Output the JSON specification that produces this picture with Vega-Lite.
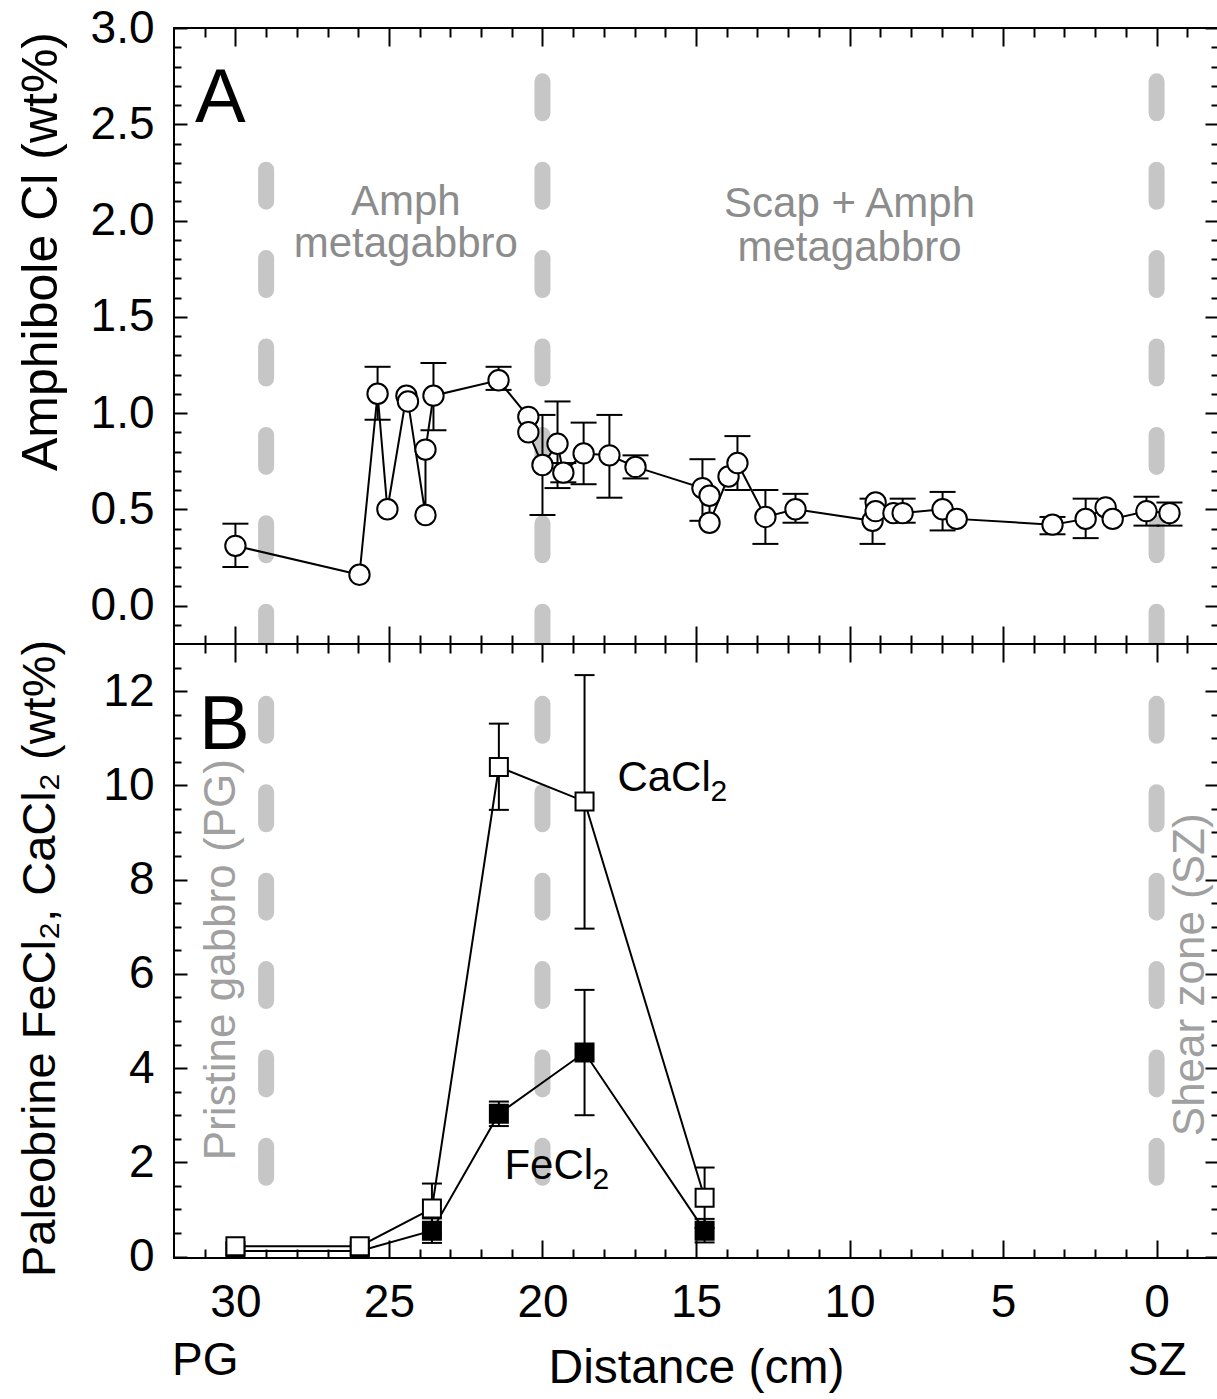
{
  "$schema": "https://vega.github.io/schema/vega-lite/v6.json",
  "background": "white",
  "padding": {"left": 15, "top": 4, "right": 0, "bottom": 0},
  "spacing": 0,
  "bounds": "flush",
  "config": {
    "font": "Liberation Sans",
    "view": {"stroke": "black", "strokeWidth": 2},
    "axis": {"grid": false, "domain": false, "labelFont": "Liberation Sans", "titleFont": "Liberation Sans", "labelFontSize": 46, "titleFontSize": 46, "labelColor": "black", "titleColor": "black", "titleFontWeight": "normal", "tickColor": "black", "tickWidth": 2, "labelFlush": false, "labelOverlap": false}
  },
  "datasets": {
    "amph": [
      {"seq": 1, "d": 30.0, "cl": 0.31, "lo": 0.20, "hi": 0.425},
      {"seq": 2, "d": 25.96, "cl": 0.16, "lo": null, "hi": null},
      {"seq": 3, "d": 25.37, "cl": 1.10, "lo": 0.965, "hi": 1.24},
      {"seq": 4, "d": 25.05, "cl": 0.50, "lo": null, "hi": null},
      {"seq": 5, "d": 24.43, "cl": 1.09, "lo": null, "hi": null},
      {"seq": 6, "d": 24.38, "cl": 1.06, "lo": null, "hi": null},
      {"seq": 7, "d": 23.81, "cl": 0.47, "lo": null, "hi": null},
      {"seq": 8, "d": 23.81, "cl": 0.81, "lo": null, "hi": null},
      {"seq": 9, "d": 23.55, "cl": 1.09, "lo": 0.91, "hi": 1.26},
      {"seq": 10, "d": 21.43, "cl": 1.17, "lo": 1.12, "hi": 1.24},
      {"seq": 11, "d": 20.46, "cl": 0.98, "lo": null, "hi": null},
      {"seq": 12, "d": 20.46, "cl": 0.90, "lo": null, "hi": null},
      {"seq": 13, "d": 20.0, "cl": 0.73, "lo": 0.47, "hi": 0.99},
      {"seq": 14, "d": 19.51, "cl": 0.84, "lo": 0.61, "hi": 1.06},
      {"seq": 15, "d": 19.32, "cl": 0.69, "lo": 0.64, "hi": 0.74},
      {"seq": 16, "d": 18.66, "cl": 0.79, "lo": 0.63, "hi": 0.95},
      {"seq": 17, "d": 17.82, "cl": 0.78, "lo": 0.56, "hi": 0.99},
      {"seq": 18, "d": 16.97, "cl": 0.72, "lo": 0.66, "hi": 0.78},
      {"seq": 19, "d": 14.79, "cl": 0.61, "lo": 0.44, "hi": 0.76},
      {"seq": 20, "d": 14.56, "cl": 0.57, "lo": null, "hi": null},
      {"seq": 21, "d": 14.56, "cl": 0.43, "lo": null, "hi": null},
      {"seq": 22, "d": 13.94, "cl": 0.67, "lo": null, "hi": null},
      {"seq": 23, "d": 13.65, "cl": 0.74, "lo": 0.60, "hi": 0.88},
      {"seq": 24, "d": 12.74, "cl": 0.46, "lo": 0.32, "hi": 0.60},
      {"seq": 25, "d": 11.76, "cl": 0.50, "lo": 0.43, "hi": 0.58},
      {"seq": 26, "d": 9.25, "cl": 0.44, "lo": 0.32, "hi": 0.555},
      {"seq": 27, "d": 9.15, "cl": 0.535, "lo": null, "hi": null},
      {"seq": 28, "d": 9.15, "cl": 0.49, "lo": null, "hi": null},
      {"seq": 29, "d": 8.57, "cl": 0.48, "lo": null, "hi": null},
      {"seq": 30, "d": 8.27, "cl": 0.48, "lo": 0.43, "hi": 0.555},
      {"seq": 31, "d": 6.97, "cl": 0.50, "lo": 0.39, "hi": 0.59},
      {"seq": 32, "d": 6.51, "cl": 0.45, "lo": null, "hi": null},
      {"seq": 33, "d": 3.39, "cl": 0.42, "lo": 0.37, "hi": 0.46},
      {"seq": 34, "d": 2.31, "cl": 0.45, "lo": 0.35, "hi": 0.555},
      {"seq": 35, "d": 1.66, "cl": 0.51, "lo": null, "hi": null},
      {"seq": 36, "d": 1.43, "cl": 0.45, "lo": null, "hi": null},
      {"seq": 37, "d": 0.33, "cl": 0.49, "lo": 0.415, "hi": 0.565},
      {"seq": 38, "d": -0.42, "cl": 0.48, "lo": 0.415, "hi": 0.535}
    ],
    "brine": [
      {"seq": 1, "sp": "FeCl2", "d": 30.0, "v": 0.12, "lo": null, "hi": null},
      {"seq": 2, "sp": "FeCl2", "d": 25.95, "v": 0.12, "lo": null, "hi": null},
      {"seq": 3, "sp": "FeCl2", "d": 23.6, "v": 0.55, "lo": 0.29, "hi": 0.81},
      {"seq": 4, "sp": "FeCl2", "d": 21.42, "v": 3.03, "lo": 2.77, "hi": 3.29},
      {"seq": 5, "sp": "FeCl2", "d": 18.63, "v": 4.33, "lo": 3.0, "hi": 5.66},
      {"seq": 6, "sp": "FeCl2", "d": 14.72, "v": 0.55, "lo": 0.30, "hi": 0.80},
      {"seq": 1, "sp": "CaCl2", "d": 30.0, "v": 0.22, "lo": null, "hi": null},
      {"seq": 2, "sp": "CaCl2", "d": 25.95, "v": 0.22, "lo": null, "hi": null},
      {"seq": 3, "sp": "CaCl2", "d": 23.6, "v": 1.02, "lo": 0.49, "hi": 1.55},
      {"seq": 4, "sp": "CaCl2", "d": 21.42, "v": 10.39, "lo": 9.48, "hi": 11.31},
      {"seq": 5, "sp": "CaCl2", "d": 18.63, "v": 9.66, "lo": 6.96, "hi": 12.34},
      {"seq": 6, "sp": "CaCl2", "d": 14.72, "v": 1.25, "lo": 0.61, "hi": 1.89}
    ],
    "dashTop": [
      {"d": 29, "y1": 2.264, "y2": -0.25},
      {"d": 20, "y1": 2.723, "y2": -0.25},
      {"d": 0, "y1": 2.723, "y2": -0.25}
    ],
    "dashBot": [
      {"d": 29, "y1": 11.73, "y2": 1.0},
      {"d": 20, "y1": 11.73, "y2": 1.0},
      {"d": 0, "y1": 11.73, "y2": 1.0}
    ],
    "regionText": [
      {"d": 24.45, "y": 2.03, "label": "Amph"},
      {"d": 24.45, "y": 1.81, "label": "metagabbro"},
      {"d": 10.0, "y": 2.02, "label": "Scap + Amph"},
      {"d": 10.0, "y": 1.79, "label": "metagabbro"}
    ],
    "letterA": [{"d": 30.49, "y": 2.51, "label": "A"}],
    "letterB": [{"d": 30.36, "y": 10.77, "label": "B"}],
    "rotText": [
      {"d": 30.0, "y": 6.3, "label": "Pristine gabbro (PG)"},
      {"d": -1.55, "y": 5.98, "label": "Shear zone (SZ)"}
    ],
    "speciesText": [
      {"d": 17.56, "y": 9.88, "label": "CaCl"},
      {"d": 21.24, "y": 1.65, "label": "FeCl"}
    ],
    "subText": [
      {"d": 14.53, "y": 9.67, "label": "2"},
      {"d": 18.37, "y": 1.43, "label": "2"}
    ]
  },
  "vconcat": [
    {
      "width": 1044,
      "height": 616,
      "resolve": {"axis": {"x": "independent", "y": "independent"}},
      "layer": [
        {
          "data": {"name": "dashTop"},
          "mark": {"type": "rule", "color": "#c6c6c6", "strokeWidth": 16, "strokeCap": "round", "strokeDash": [32, 56.4], "clip": true},
          "encoding": {
            "x": {"field": "d", "type": "quantitative", "scale": {"domain": [32, -2], "nice": false, "zero": false}, "axis": {"orient": "bottom", "values": [30, 25, 20, 15, 10, 5, 0], "tickSize": -18, "labels": false, "title": null}},
            "y": {"field": "y1", "type": "quantitative", "scale": {"domain": [-0.2, 3.0], "nice": false, "zero": false}, "axis": {"orient": "left", "values": [0, 0.5, 1, 1.5, 2, 2.5, 3], "tickSize": -13, "labels": false, "title": null}},
            "y2": {"field": "y2"}
          }
        },
        {
          "data": {"name": "regionText"},
          "mark": {"type": "text", "fontSize": 42, "color": "#8c8c8c", "align": "center", "baseline": "alphabetic"},
          "encoding": {
            "x": {"field": "d", "type": "quantitative", "scale": {"domain": [32, -2], "nice": false, "zero": false}, "axis": {"orient": "bottom", "values": [31, 29, 28, 27, 26, 24, 23, 22, 21, 19, 18, 17, 16, 14, 13, 12, 11, 9, 8, 7, 6, 4, 3, 2, 1, -1], "tickSize": -9, "labels": false, "title": null}},
            "y": {"field": "y", "type": "quantitative", "scale": {"domain": [-0.2, 3.0], "nice": false, "zero": false}, "axis": {"orient": "left", "values": [-0.1, 0.1, 0.2, 0.3, 0.4, 0.6, 0.7, 0.8, 0.9, 1.1, 1.2, 1.3, 1.4, 1.6, 1.7, 1.8, 1.9, 2.1, 2.2, 2.3, 2.4, 2.6, 2.7, 2.8, 2.9], "tickSize": -7, "labels": false, "title": null}},
            "text": {"field": "label"}
          }
        },
        {
          "data": {"name": "amph"},
          "transform": [{"filter": "isValid(datum.lo)"}],
          "mark": {"type": "rule", "color": "black", "strokeWidth": 2},
          "encoding": {
            "x": {"field": "d", "type": "quantitative", "scale": {"domain": [32, -2], "nice": false, "zero": false}, "axis": {"orient": "top", "values": [30, 25, 20, 15, 10, 5, 0], "tickSize": -18, "labels": false, "title": null}},
            "y": {"field": "lo", "type": "quantitative", "scale": {"domain": [-0.2, 3.0], "nice": false, "zero": false}, "axis": {"orient": "right", "values": [0, 0.5, 1, 1.5, 2, 2.5, 3], "tickSize": -13, "labels": false, "title": null}},
            "y2": {"field": "hi"}
          }
        },
        {
          "data": {"name": "amph"},
          "transform": [{"filter": "isValid(datum.hi)"}],
          "mark": {"type": "tick", "orient": "horizontal", "color": "black", "size": 26, "thickness": 2, "opacity": 1},
          "encoding": {
            "x": {"field": "d", "type": "quantitative", "scale": {"domain": [32, -2], "nice": false, "zero": false}, "axis": {"orient": "top", "values": [31, 29, 28, 27, 26, 24, 23, 22, 21, 19, 18, 17, 16, 14, 13, 12, 11, 9, 8, 7, 6, 4, 3, 2, 1, -1], "tickSize": -9, "labels": false, "title": null}},
            "y": {"field": "hi", "type": "quantitative", "scale": {"domain": [-0.2, 3.0], "nice": false, "zero": false}, "axis": {"orient": "right", "values": [-0.1, 0.1, 0.2, 0.3, 0.4, 0.6, 0.7, 0.8, 0.9, 1.1, 1.2, 1.3, 1.4, 1.6, 1.7, 1.8, 1.9, 2.1, 2.2, 2.3, 2.4, 2.6, 2.7, 2.8, 2.9], "tickSize": -7, "labels": false, "title": null}}
          }
        },
        {
          "data": {"name": "amph"},
          "transform": [{"filter": "isValid(datum.lo)"}],
          "mark": {"type": "tick", "orient": "horizontal", "color": "black", "size": 26, "thickness": 2, "opacity": 1},
          "encoding": {
            "x": {"field": "d", "type": "quantitative", "scale": {"domain": [32, -2], "nice": false, "zero": false}, "axis": null},
            "y": {"field": "lo", "type": "quantitative", "scale": {"domain": [-0.2, 3.0], "nice": false, "zero": false}, "axis": {"orient": "left", "values": [0, 0.5, 1, 1.5, 2, 2.5, 3], "ticks": false, "labelPadding": 20, "format": ".1f", "title": "Amphibole Cl (wt%)", "titleFontSize": 50, "titlePadding": 24, "titleY": 223}}
          }
        },
        {
          "data": {"name": "amph"},
          "mark": {"type": "line", "color": "black", "strokeWidth": 2},
          "encoding": {
            "x": {"field": "d", "type": "quantitative", "scale": {"domain": [32, -2], "nice": false, "zero": false}, "axis": null},
            "y": {"field": "cl", "type": "quantitative", "scale": {"domain": [-0.2, 3.0], "nice": false, "zero": false}, "axis": null},
            "order": {"field": "seq", "type": "quantitative"}
          }
        },
        {
          "data": {"name": "amph"},
          "mark": {"type": "circle", "fill": "white", "stroke": "black", "strokeWidth": 2, "size": 415, "opacity": 1},
          "encoding": {
            "x": {"field": "d", "type": "quantitative", "scale": {"domain": [32, -2], "nice": false, "zero": false}, "axis": null},
            "y": {"field": "cl", "type": "quantitative", "scale": {"domain": [-0.2, 3.0], "nice": false, "zero": false}, "axis": null}
          }
        },
        {
          "data": {"name": "letterA"},
          "mark": {"type": "text", "fontSize": 76, "color": "black", "align": "center", "baseline": "alphabetic"},
          "encoding": {
            "x": {"field": "d", "type": "quantitative", "scale": {"domain": [32, -2], "nice": false, "zero": false}, "axis": null},
            "y": {"field": "y", "type": "quantitative", "scale": {"domain": [-0.2, 3.0], "nice": false, "zero": false}, "axis": null},
            "text": {"field": "label"}
          }
        }
      ]
    },
    {
      "width": 1044,
      "height": 614,
      "resolve": {"axis": {"x": "independent", "y": "independent"}},
      "layer": [
        {
          "data": {"name": "dashBot"},
          "mark": {"type": "rule", "color": "#c6c6c6", "strokeWidth": 16, "strokeCap": "round", "strokeDash": [32, 56.4], "clip": true},
          "encoding": {
            "x": {"field": "d", "type": "quantitative", "scale": {"domain": [32, -2], "nice": false, "zero": false}, "axis": {"orient": "bottom", "values": [30, 25, 20, 15, 10, 5, 0], "tickSize": -18, "labels": false, "title": null}},
            "y": {"field": "y1", "type": "quantitative", "scale": {"domain": [-0.03, 13], "nice": false, "zero": false}, "axis": {"orient": "left", "values": [0, 2, 4, 6, 8, 10, 12], "tickSize": -13, "labels": false, "title": null}},
            "y2": {"field": "y2"}
          }
        },
        {
          "data": {"name": "rotText"},
          "mark": {"type": "text", "fontSize": 44, "color": "#a0a0a0", "align": "center", "baseline": "alphabetic", "angle": 270},
          "encoding": {
            "x": {"field": "d", "type": "quantitative", "scale": {"domain": [32, -2], "nice": false, "zero": false}, "axis": {"orient": "bottom", "values": [31, 29, 28, 27, 26, 24, 23, 22, 21, 19, 18, 17, 16, 14, 13, 12, 11, 9, 8, 7, 6, 4, 3, 2, 1, -1], "tickSize": -9, "labels": false, "title": null}},
            "y": {"field": "y", "type": "quantitative", "scale": {"domain": [-0.03, 13], "nice": false, "zero": false}, "axis": {"orient": "left", "values": [0.5, 1, 1.5, 2.5, 3, 3.5, 4.5, 5, 5.5, 6.5, 7, 7.5, 8.5, 9, 9.5, 10.5, 11, 11.5, 12.5], "tickSize": -7, "labels": false, "title": null}},
            "text": {"field": "label"}
          }
        },
        {
          "data": {"name": "speciesText"},
          "mark": {"type": "text", "fontSize": 42, "color": "black", "align": "left", "baseline": "alphabetic"},
          "encoding": {
            "x": {"field": "d", "type": "quantitative", "scale": {"domain": [32, -2], "nice": false, "zero": false}, "axis": {"orient": "top", "values": [30, 25, 20, 15, 10, 5, 0], "tickSize": -18, "labels": false, "title": null}},
            "y": {"field": "y", "type": "quantitative", "scale": {"domain": [-0.03, 13], "nice": false, "zero": false}, "axis": {"orient": "right", "values": [0, 2, 4, 6, 8, 10, 12], "tickSize": -13, "labels": false, "title": null}},
            "text": {"field": "label"}
          }
        },
        {
          "data": {"name": "subText"},
          "mark": {"type": "text", "fontSize": 30, "color": "black", "align": "left", "baseline": "alphabetic"},
          "encoding": {
            "x": {"field": "d", "type": "quantitative", "scale": {"domain": [32, -2], "nice": false, "zero": false}, "axis": null},
            "y": {"field": "y", "type": "quantitative", "scale": {"domain": [-0.03, 13], "nice": false, "zero": false}, "axis": null},
            "text": {"field": "label"}
          }
        },
        {
          "data": {"name": "brine"},
          "transform": [{"filter": "isValid(datum.lo)"}],
          "mark": {"type": "rule", "color": "black", "strokeWidth": 2},
          "encoding": {
            "x": {"field": "d", "type": "quantitative", "scale": {"domain": [32, -2], "nice": false, "zero": false}, "axis": {"orient": "top", "values": [31, 29, 28, 27, 26, 24, 23, 22, 21, 19, 18, 17, 16, 14, 13, 12, 11, 9, 8, 7, 6, 4, 3, 2, 1, -1], "tickSize": -9, "labels": false, "title": null}},
            "y": {"field": "lo", "type": "quantitative", "scale": {"domain": [-0.03, 13], "nice": false, "zero": false}, "axis": {"orient": "right", "values": [0.5, 1, 1.5, 2.5, 3, 3.5, 4.5, 5, 5.5, 6.5, 7, 7.5, 8.5, 9, 9.5, 10.5, 11, 11.5, 12.5], "tickSize": -7, "labels": false, "title": null}},
            "y2": {"field": "hi"}
          }
        },
        {
          "data": {"name": "brine"},
          "transform": [{"filter": "isValid(datum.hi)"}],
          "mark": {"type": "tick", "orient": "horizontal", "color": "black", "size": 20, "thickness": 2, "opacity": 1},
          "encoding": {
            "x": {"field": "d", "type": "quantitative", "scale": {"domain": [32, -2], "nice": false, "zero": false}, "axis": {"orient": "bottom", "values": [30, 25, 20, 15, 10, 5, 0], "ticks": false, "labelPadding": 22, "format": "d", "title": "Distance (cm)", "titlePadding": 19, "titleFontSize": 48}},
            "y": {"field": "hi", "type": "quantitative", "scale": {"domain": [-0.03, 13], "nice": false, "zero": false}, "axis": {"orient": "left", "values": [0, 2, 4, 6, 8, 10, 12], "ticks": false, "labelPadding": 20, "format": "d", "title": "Paleobrine FeCl₂, CaCl₂ (wt%)", "titleFontSize": 47, "titlePadding": 38, "titleY": 314}}
          }
        },
        {
          "data": {"name": "brine"},
          "transform": [{"filter": "isValid(datum.lo)"}],
          "mark": {"type": "tick", "orient": "horizontal", "color": "black", "size": 20, "thickness": 2, "opacity": 1},
          "encoding": {
            "x": {"field": "d", "type": "quantitative", "scale": {"domain": [32, -2], "nice": false, "zero": false}, "axis": {"orient": "bottom", "values": [31, 0], "ticks": false, "labelPadding": 80, "labelExpr": "datum.value > 15 ? 'PG' : 'SZ'", "title": null}},
            "y": {"field": "lo", "type": "quantitative", "scale": {"domain": [-0.03, 13], "nice": false, "zero": false}, "axis": null}
          }
        },
        {
          "data": {"name": "brine"},
          "mark": {"type": "line", "color": "black", "strokeWidth": 2, "clip": true},
          "encoding": {
            "x": {"field": "d", "type": "quantitative", "scale": {"domain": [32, -2], "nice": false, "zero": false}, "axis": null},
            "y": {"field": "v", "type": "quantitative", "scale": {"domain": [-0.03, 13], "nice": false, "zero": false}, "axis": null},
            "detail": {"field": "sp", "type": "nominal"},
            "order": {"field": "seq", "type": "quantitative"}
          }
        },
        {
          "data": {"name": "brine"},
          "mark": {"type": "square", "stroke": "black", "strokeWidth": 2, "size": 324, "opacity": 1, "clip": true},
          "encoding": {
            "x": {"field": "d", "type": "quantitative", "scale": {"domain": [32, -2], "nice": false, "zero": false}, "axis": null},
            "y": {"field": "v", "type": "quantitative", "scale": {"domain": [-0.03, 13], "nice": false, "zero": false}, "axis": null},
            "fill": {"field": "sp", "type": "nominal", "scale": {"domain": ["FeCl2", "CaCl2"], "range": ["black", "white"]}, "legend": null}
          }
        },
        {
          "data": {"name": "letterB"},
          "mark": {"type": "text", "fontSize": 76, "color": "black", "align": "center", "baseline": "alphabetic"},
          "encoding": {
            "x": {"field": "d", "type": "quantitative", "scale": {"domain": [32, -2], "nice": false, "zero": false}, "axis": null},
            "y": {"field": "y", "type": "quantitative", "scale": {"domain": [-0.03, 13], "nice": false, "zero": false}, "axis": null},
            "text": {"field": "label"}
          }
        }
      ]
    }
  ]
}
